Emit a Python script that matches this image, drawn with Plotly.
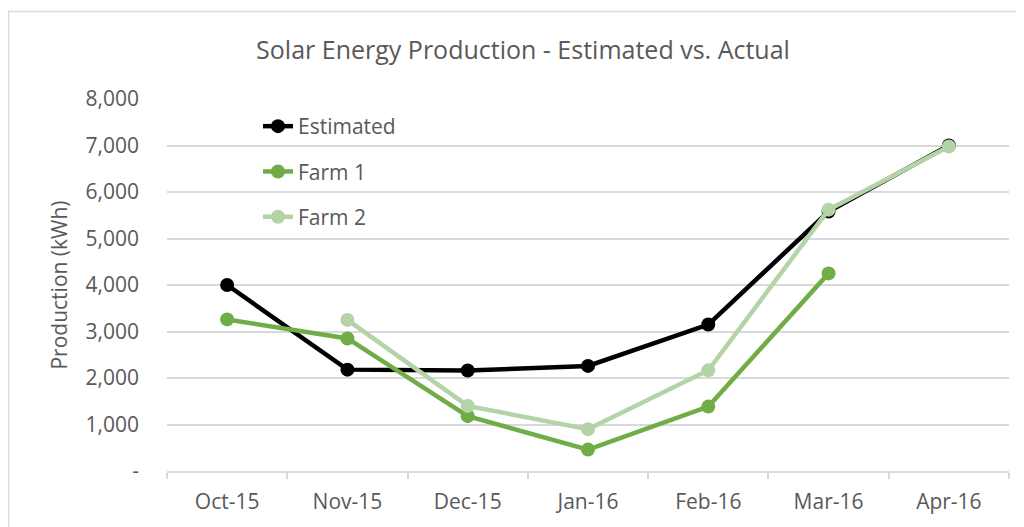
import plotly.graph_objects as go

categories = ["Oct-15", "Nov-15", "Dec-15", "Jan-16", "Feb-16", "Mar-16", "Apr-16"]
estimated = [4000, 2180, 2160, 2260, 3150, 5580, 7000]
farm1 = [3260, 2850, 1180, 460, 1385, 4250, None]
farm2 = [None, 3250, 1400, 900, 2165, 5620, 6980]
y_tickvals = [0, 1000, 2000, 3000, 4000, 5000, 6000, 7000, 8000]
y_ticktext = ["-", "1,000", "2,000", "3,000", "4,000", "5,000", "6,000", "7,000", "8,000"]

FONT = "Open Sans"
TXT = "#595959"
GRID = "#D9D9D9"

series = [
    ("Estimated", estimated, "#000000"),
    ("Farm 1", farm1, "#70AD47"),
    ("Farm 2", farm2, "#B4D3A6"),
]

fig = go.Figure()
for name, vals, col in series:
    fig.add_trace(go.Scatter(
        x=categories, y=vals, name=name, mode="lines+markers",
        line=dict(color=col, width=4.5),
        marker=dict(color=col, size=14),
        legendgroup=name,
        connectgaps=False,
    ))

# page is rendered with an 8px body margin
W, H = 1016, 519
ml, mr, mt, mb = 159, 15, 91, 56
pw, ph = W - ml - mr, H - mt - mb

fig.update_layout(
    width=W, height=H,
    margin=dict(l=ml, r=mr, t=mt, b=mb),
    paper_bgcolor="white", plot_bgcolor="white",
    font=dict(family=FONT, color=TXT, size=21),
    title=dict(text="Solar Energy Production - Estimated vs. Actual",
               x=515 / W, xanchor="center", y=1 - 42 / H, yanchor="middle",
               font=dict(family=FONT, size=25, color=TXT)),
    showlegend=True,
    legend=dict(x=(250 - ml) / pw, xanchor="left", y=(H - mb - 98) / ph, yanchor="top",
                bgcolor="rgba(0,0,0,0)", tracegroupgap=15,
                font=dict(family=FONT, size=21, color=TXT)),
    xaxis=dict(type="category", showgrid=False, showline=True, linecolor=GRID, linewidth=1.5,
               ticks="outside", tickson="boundaries", ticklen=6, tickcolor=GRID, tickwidth=1.5,
               ticklabelstandoff=11, range=[-0.5, 6.5],
               tickfont=dict(family=FONT, size=21, color=TXT), zeroline=False),
    yaxis=dict(range=[0, 8000], tickvals=y_tickvals, ticktext=y_ticktext,
               showgrid=True, gridcolor=GRID, gridwidth=1.5, showline=False, zeroline=False,
               ticks="", ticklabelstandoff=27,
               tickfont=dict(family=FONT, size=21, color=TXT),
               title=dict(text="Production (kWh)", standoff=12,
                          font=dict(family=FONT, size=21, color=TXT))),
    shapes=[dict(type="rect", xref="paper", yref="paper",
                 x0=(0.5 - ml) / pw, x1=(W + 20 - ml) / pw,
                 y0=-(mb + 20) / ph, y1=(H - mb - 3.5) / ph,
                 line=dict(color=GRID, width=1.5), fillcolor="rgba(0,0,0,0)", layer="below")],
)

fig.write_html("out.html")
